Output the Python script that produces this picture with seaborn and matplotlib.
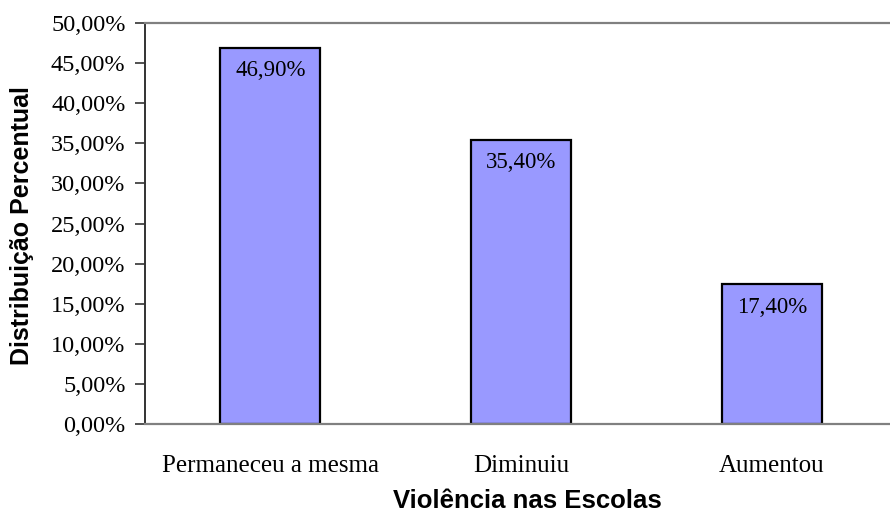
import numpy as np
import pandas as pd
import seaborn as sns
import matplotlib.pyplot as plt
from matplotlib.ticker import FuncFormatter, MultipleLocator

categories = ['Permaneceu a mesma', 'Diminuiu', 'Aumentou']
percentages = [46.90, 35.40, 17.40]

x_title = 'Violência nas Escolas'
y_title = 'Distribuição Percentual'


def pt_br(v):
    return f"{v:.2f}%".replace('.', ',')


df = pd.DataFrame({'categoria': categories, 'percentual': percentages})

sns.set_style('white')
plt.rcParams['font.family'] = ['Liberation Serif', 'DejaVu Serif']
plt.rcParams['text.color'] = 'black'
plt.rcParams['xtick.color'] = 'black'
plt.rcParams['ytick.color'] = 'black'
plt.rcParams['axes.labelcolor'] = 'black'

fig = plt.figure(figsize=(8.9, 5.15), dpi=100)
ax = fig.add_axes([0.1629, 0.1767, 1.0 - 0.1629, 0.9553 - 0.1767])

sns.barplot(data=df, x='categoria', y='percentual', color='#9999FF',
            edgecolor='black', linewidth=1.6, width=0.4, saturation=1, ax=ax)

ax.set_ylim(0, 50)
ax.set_xlim(-0.5, 2.472)
ax.yaxis.set_major_locator(MultipleLocator(5))
ax.yaxis.set_major_formatter(FuncFormatter(lambda v, p: pt_br(v)))

ax.bar_label(ax.containers[0], labels=[pt_br(v) for v in df['percentual']],
             padding=-24, fontsize=16.5, color='black')

ax.spines['right'].set_visible(False)
ax.spines['top'].set_color('#808080')
ax.spines['top'].set_linewidth(1.6)
ax.spines['bottom'].set_color('#808080')
ax.spines['bottom'].set_linewidth(1.6)
ax.spines['left'].set_color('#333333')
ax.spines['left'].set_linewidth(1.4)

ax.tick_params(axis='y', which='major', direction='out', length=7, width=1.2,
               color='#333333', labelsize=17.5, pad=7, left=True)
ax.tick_params(axis='x', length=0, labelsize=18, pad=22)

ax.set_xlabel(x_title, family='Liberation Sans', fontweight='bold', fontsize=18.5)
ax.set_ylabel(y_title, family='Liberation Sans', fontweight='bold', fontsize=18)
ax.xaxis.set_label_coords((527 - 145) / (890 - 145), -(501 - 424) / (424 - 23))
ax.yaxis.set_label_coords(-(145 - 22) / (890 - 145), (424 - 226) / (424 - 23))
ax.xaxis.label.set_va('center')
ax.yaxis.label.set_va('center')

fig.savefig('out.png', dpi=100)
